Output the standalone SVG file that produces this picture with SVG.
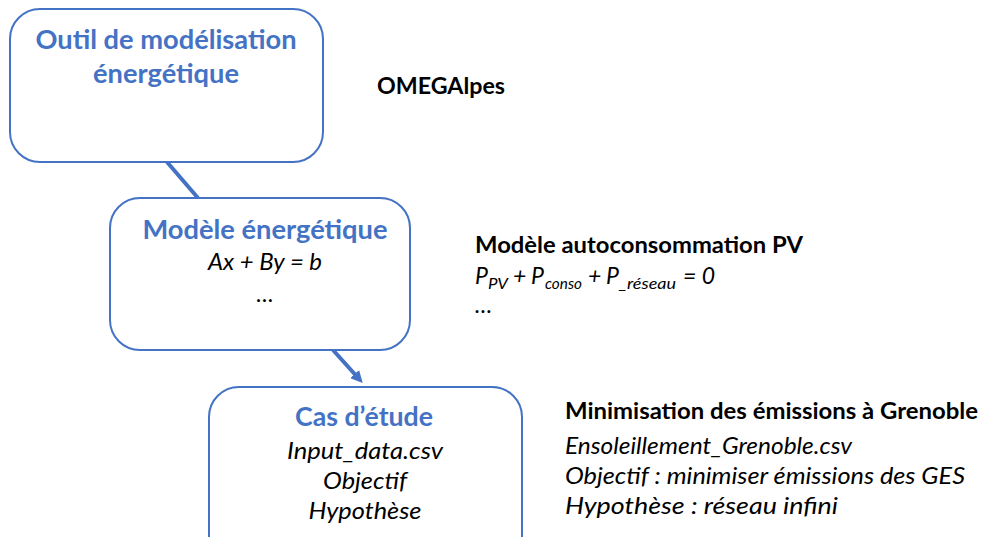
<svg xmlns="http://www.w3.org/2000/svg" width="989" height="537" viewBox="0 0 989 537">
<style>
.box{fill:#fff;stroke:#4472C4;stroke-width:2}
.conn{stroke:#4472C4;stroke-width:4;fill:none}
.t{font-family:Lato,"Open Sans","Liberation Sans",sans-serif;font-weight:bold;fill:#4472C4;text-anchor:middle;font-size:26px}
.b{font-family:Lato,"Open Sans","Liberation Sans",sans-serif;font-weight:bold;fill:#000;font-size:23px}
.i{font-family:Lato,"Open Sans","Liberation Sans",sans-serif;font-style:italic;fill:#000;font-size:23px}
.s{font-size:16px}
.c{text-anchor:middle}
</style>
<defs>
<marker id="arr" markerWidth="12" markerHeight="12" refX="8" refY="6" orient="auto" markerUnits="userSpaceOnUse">
<path d="M0,0 L12,6 L0,12 Z" fill="#4472C4"/>
</marker>
</defs>
<rect width="989" height="537" fill="#fff"/>
<g id="connectors">
<line class="conn" x1="167" y1="162" x2="198" y2="198"/>
<line class="conn" x1="333" y1="350" x2="360" y2="380" marker-end="url(#arr)"/>
</g>
<g id="node-outil">
<rect class="box" x="10" y="9" width="313" height="153" rx="30"/>
<text class="t" x="166" y="49" textLength="261" lengthAdjust="spacingAndGlyphs">Outil de modélisation</text>
<text class="t" x="166" y="83" textLength="146" lengthAdjust="spacingAndGlyphs">énergétique</text>
</g>
<g id="node-modele">
<rect class="box" x="110" y="198" width="300" height="152" rx="30"/>
<text class="t" x="265" y="239" textLength="245" lengthAdjust="spacingAndGlyphs">Modèle énergétique</text>
<text class="i c" x="265" y="270" textLength="114" lengthAdjust="spacingAndGlyphs">Ax + By = b</text>
<text class="i c" x="265" y="302">…</text>
</g>
<g id="node-cas">
<rect class="box" x="209" y="387" width="313" height="180" rx="30"/>
<text class="t" x="364" y="426" textLength="138" lengthAdjust="spacingAndGlyphs">Cas d’étude</text>
<text class="i c" x="365" y="459" textLength="156" lengthAdjust="spacingAndGlyphs">Input_data.csv</text>
<text class="i c" x="365" y="489" textLength="84" lengthAdjust="spacingAndGlyphs">Objectif</text>
<text class="i c" x="365" y="519" textLength="113" lengthAdjust="spacingAndGlyphs">Hypothèse</text>
</g>
<g id="label-omegalpes">
<text class="b" x="377" y="94" textLength="128" lengthAdjust="spacingAndGlyphs">OMEGAlpes</text>
</g>
<g id="label-autoconso">
<text class="b" x="475" y="253" textLength="328" lengthAdjust="spacingAndGlyphs">Modèle autoconsommation PV</text>
<text class="i" y="284"><tspan x="475">P</tspan><tspan class="s" x="488" dy="5" textLength="20" lengthAdjust="spacingAndGlyphs">PV</tspan><tspan x="513" dy="-5">+</tspan><tspan x="531">P</tspan><tspan class="s" x="545" dy="5" textLength="37" lengthAdjust="spacingAndGlyphs">conso</tspan><tspan x="588" dy="-5">+</tspan><tspan x="606">P</tspan><tspan class="s" x="619" dy="5" textLength="57" lengthAdjust="spacingAndGlyphs">_réseau</tspan><tspan x="683" dy="-5">= 0</tspan></text>
<text class="i" x="475" y="313">…</text>
</g>
<g id="label-minimisation">
<text class="b" x="565" y="419" textLength="413" lengthAdjust="spacingAndGlyphs">Minimisation des émissions à Grenoble</text>
<text class="i" x="565" y="454" textLength="287" lengthAdjust="spacingAndGlyphs">Ensoleillement_Grenoble.csv</text>
<text class="i" x="565" y="484" textLength="400" lengthAdjust="spacingAndGlyphs">Objectif : minimiser émissions des GES</text>
<text class="i" x="565" y="514" textLength="273" lengthAdjust="spacingAndGlyphs">Hypothèse : réseau infini</text>
</g>
</svg>
